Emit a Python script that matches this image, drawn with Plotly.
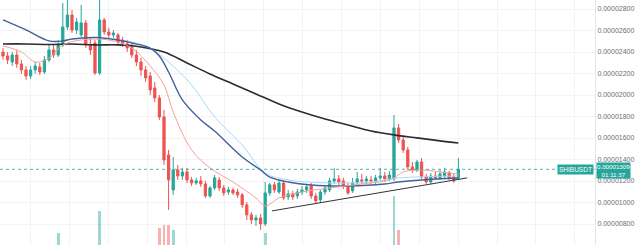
import numpy as np
import plotly.graph_objects as go

SCALE = 1e-8  # prices below are in units of 0.00000001

open_ = [2400, 2363, 2307, 2372, 2289, 2233, 2177, 2233, 2261, 2214,
         2326, 2419, 2372, 2466, 2633, 2744, 2605, 2559, 2670, 2466,
         2484, 2205, 2698, 2586, 2559, 2559, 2512, 2475, 2447, 2372,
         2307, 2233, 2177, 2066, 1973, 1796, 1443, 1117, 1303, 1247,
         1284, 1210, 1182, 1201, 1173, 1061, 1136, 1210, 1136, 1098,
         1117, 1098, 1071, 978, 885, 838, 857, 801, 1089, 1164,
         1098, 1182, 1052, 1080, 1061, 1098, 1117, 1154, 1061, 1024,
         1098, 1117, 1201, 1219, 1201, 1154, 1108, 1182, 1210, 1201,
         1210, 1191, 1229, 1247, 1219, 1219, 1694, 1582, 1489, 1331,
         1303, 1377, 1238, 1191, 1247, 1229, 1247, 1275, 1238, 1229]
close = [2363, 2326, 2372, 2289, 2233, 2177, 2233, 2270, 2214, 2326,
         2419, 2372, 2466, 2633, 2744, 2605, 2679, 2670, 2466, 2419,
         2205, 2698, 2586, 2559, 2577, 2493, 2475, 2438, 2372, 2307,
         2233, 2159, 2047, 1973, 1796, 1396, 1210, 1303, 1247, 1284,
         1210, 1182, 1201, 1173, 1061, 1136, 1229, 1136, 1089, 1117,
         1089, 1071, 978, 885, 838, 857, 801, 1089, 1164, 1117,
         1182, 1043, 1080, 1052, 1098, 1117, 1145, 1061, 1015, 1098,
         1136, 1201, 1219, 1191, 1154, 1089, 1182, 1219, 1201, 1219,
         1201, 1229, 1247, 1219, 1256, 1694, 1582, 1489, 1331, 1303,
         1377, 1238, 1191, 1247, 1229, 1266, 1284, 1229, 1201, 1309]
high = [2438, 2400, 2400, 2419, 2326, 2270, 2270, 2307, 2298, 2363,
        2475, 2466, 2512, 2856, 2884, 2791, 2717, 2838, 2698, 2531,
        2512, 2890, 2717, 2624, 2605, 2577, 2540, 2512, 2475, 2419,
        2345, 2270, 2214, 2121, 2000, 1861, 1489, 1424, 1350, 1322,
        1322, 1238, 1229, 1247, 1201, 1154, 1256, 1238, 1164, 1145,
        1136, 1126, 1089, 1005, 912, 885, 894, 1191, 1182, 1191,
        1210, 1201, 1117, 1108, 1126, 1154, 1173, 1182, 1089, 1117,
        1154, 1229, 1322, 1256, 1229, 1182, 1229, 1284, 1266, 1247,
        1247, 1256, 1322, 1284, 1294, 1814, 1731, 1619, 1517, 1377,
        1396, 1415, 1266, 1275, 1284, 1303, 1322, 1294, 1266, 1415]
low = [2326, 2289, 2270, 2252, 2196, 2140, 2149, 2196, 2186, 2196,
       2307, 2345, 2354, 2447, 2605, 2577, 2568, 2540, 2438, 2372,
       2186, 2186, 2559, 2531, 2531, 2466, 2447, 2400, 2345, 2270,
       2177, 2121, 2000, 1935, 1768, 1350, 931, 1071, 1210, 1210,
       1182, 1154, 1164, 1145, 1043, 1043, 1117, 1108, 1061, 1071,
       1071, 1043, 950, 838, 801, 782, 745, 782, 1061, 1089,
       1080, 1024, 1024, 1024, 1033, 1071, 1089, 1033, 987, 996,
       1071, 1098, 1173, 1164, 1126, 1071, 1089, 1154, 1173, 1182,
       1173, 1173, 1210, 1191, 1201, 1201, 1554, 1461, 1303, 1275,
       1284, 1219, 1173, 1173, 1210, 1210, 1229, 1210, 1182, 1210]
volume = [22, 18, 20, 25, 24, 28, 21, 19, 23, 30,
          27, 20, 45, 38, 35, 26, 22, 33, 31, 25,
          36, 54, 34, 24, 20, 22, 19, 21, 24, 26,
          25, 27, 30, 32, 47, 48, 48, 46, 30, 22,
          20, 18, 17, 19, 24, 22, 25, 20, 18, 16,
          15, 17, 22, 28, 26, 24, 30, 45, 35, 24,
          22, 26, 18, 16, 17, 19, 18, 22, 24, 20,
          19, 23, 25, 18, 17, 20, 22, 24, 16, 15,
          15, 16, 21, 17, 19, 60, 46, 33, 30, 22,
          20, 24, 22, 18, 16, 19, 21, 18, 17, 25]

ma200_idx = [0, 5, 10, 15, 20, 25, 30, 35, 40, 45, 50, 55, 60, 65, 70, 75, 80, 85, 90, 95, 99]
ma200_val = [2475, 2475, 2470, 2475, 2466, 2466, 2447, 2400, 2298, 2196, 2103, 2010,
             1917, 1842, 1777, 1721, 1666, 1629, 1601, 1573, 1554]
ma50_idx = [0, 5, 10, 13, 15, 20, 25, 28, 32, 34, 36, 39, 43, 46, 52, 56, 58, 62, 67, 75, 83, 86, 91, 99]
ma50_val = [2698, 2605, 2503, 2503, 2521, 2535, 2512, 2484, 2437, 2363, 2214, 1954,
            1768, 1665, 1424, 1303, 1237, 1191, 1163, 1154, 1172, 1191, 1210, 1228]
ema_idx = [0, 4, 7, 10, 13, 17, 23, 28, 32, 35, 37, 41, 45, 50, 55, 57, 60, 65, 71, 78, 83, 85, 87, 91, 95, 99]
ema_val = [2456, 2400, 2307, 2344, 2465, 2512, 2512, 2437, 2270, 2093, 1842, 1489, 1321,
           1191, 1042, 968, 1042, 1098, 1135, 1172, 1200, 1228, 1284, 1303, 1284, 1265]
ma100_idx = [25, 29, 32, 36, 41, 46, 52, 57, 62, 71, 80, 86, 99]
ma100_val = [2512, 2484, 2437, 2307, 2093, 1796, 1535, 1275, 1210, 1182, 1191, 1228, 1247]

trend_idx = [58.5, 100.9]
trend_val = [922, 1229]

tick_vals = [600, 800, 1000, 1200, 1400, 1600, 1800, 2000, 2200, 2400, 2600, 2800]
tick_text = ["0.%08d" % v for v in tick_vals]
symbol = "SHIBUSDT"
last_price_text = "0.00001309"
countdown = "01:11:37"

GREEN = "#26a69a"
RED = "#ef5350"

n = len(open_)
idx = list(range(n))
o = np.array(open_) * SCALE
c = np.array(close) * SCALE
h = np.array(high) * SCALE
l = np.array(low) * SCALE

fig = go.Figure()

vol_colors = ["rgba(38,166,154,0.45)" if close[i] >= open_[i] else "rgba(239,83,80,0.45)" for i in range(n)]
fig.add_trace(go.Bar(x=idx, y=volume, marker=dict(color=vol_colors, line=dict(width=0)),
                     width=0.6, yaxis="y2", showlegend=False, hoverinfo="skip"))

fig.add_trace(go.Candlestick(
    x=idx, open=o, high=h, low=l, close=c,
    increasing=dict(line=dict(color=GREEN, width=1), fillcolor=GREEN),
    decreasing=dict(line=dict(color=RED, width=1), fillcolor=RED),
    whiskerwidth=0, showlegend=False))

fig.add_trace(go.Scatter(x=ma200_idx, y=np.array(ma200_val) * SCALE, mode="lines",
                         line=dict(color="#2b2b30", width=1.6, shape="spline"), showlegend=False))
fig.add_trace(go.Scatter(x=ma100_idx, y=np.array(ma100_val) * SCALE, mode="lines",
                         line=dict(color="#a6dcef", width=1, shape="spline"), showlegend=False))
fig.add_trace(go.Scatter(x=ma50_idx, y=np.array(ma50_val) * SCALE, mode="lines",
                         line=dict(color="#42609f", width=1.4, shape="spline"), showlegend=False))
fig.add_trace(go.Scatter(x=ema_idx, y=np.array(ema_val) * SCALE, mode="lines",
                         line=dict(color="#f4a29a", width=1, shape="spline"), showlegend=False))
fig.add_trace(go.Scatter(x=trend_idx, y=np.array(trend_val) * SCALE, mode="lines",
                         line=dict(color="#333333", width=1), showlegend=False))

last = close[-1] * SCALE
fig.add_shape(type="line", xref="paper", x0=0, x1=1, yref="y", y0=last, y1=last,
              line=dict(color="rgba(38,166,154,0.8)", width=1, dash="dot"))

fig.add_annotation(xref="paper", x=1, xanchor="left", xshift=1, yref="y", y=last, yshift=-1,
                   text=last_price_text + "<br>" + countdown, showarrow=False,
                   font=dict(family="Liberation Sans", size=6.2, color="white"),
                   bgcolor=GREEN, borderpad=0, align="center")
fig.add_annotation(xref="paper", x=1, xanchor="right", xshift=-1, yref="y", y=last,
                   text=symbol, showarrow=False,
                   font=dict(family="Liberation Sans", size=6.5, color="white"),
                   bgcolor=GREEN, borderpad=1)

fig.update_layout(
    width=640, height=245,
    margin=dict(l=0, r=45, t=0, b=0),
    paper_bgcolor="white", plot_bgcolor="white",
    xaxis=dict(range=[-0.652, 128.7], showticklabels=False, showgrid=True,
               gridcolor="#f2f3f6", tick0=6, dtick=8.45, zeroline=False,
               rangeslider=dict(visible=False), fixedrange=True),
    yaxis=dict(side="right", range=[604.7 * SCALE, 2883.7 * SCALE],
               tickvals=np.array(tick_vals) * SCALE, ticktext=tick_text,
               tickfont=dict(family="Liberation Sans", size=7, color="#6a6d78"),
               showgrid=True, gridcolor="#f2f3f6", zeroline=False,
               showline=True, linecolor="#e6e6e6", ticks=""),
    yaxis2=dict(overlaying="y", range=[40, 140], visible=False),
    bargap=0,
)

fig.write_html("out.html")
